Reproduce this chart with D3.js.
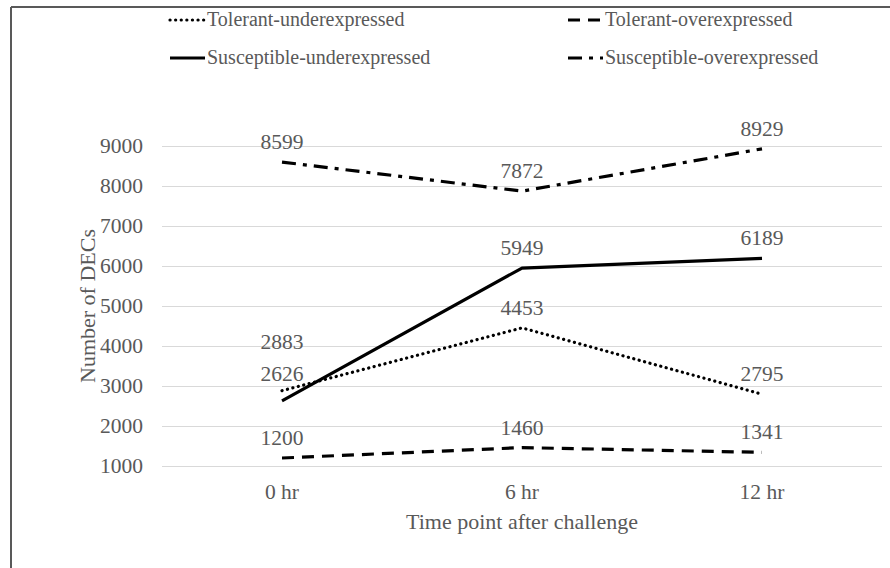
<!DOCTYPE html>
<html>
<head>
<meta charset="utf-8">
<script src="https://cdn.jsdelivr.net/npm/d3@7"></script>
<style>
  html, body { margin: 0; padding: 0; background: #fff; }
  svg { display: block; }
  svg text { font-family: "Liberation Serif", Tinos, "DejaVu Serif", "Noto Serif", "Times New Roman", serif; }
</style>
</head>
<body>
<svg id="chart" width="890" height="568"></svg>
<script>
// Time points (categories)
const timePoints = ["0 hr", "6 hr", "12 hr"];

// Number of differentially expressed contigs per group
const tolerantUnder = [2883, 4453, 2795];
const tolerantOver = [1200, 1460, 1341];
const susceptibleUnder = [2626, 5949, 6189];
const susceptibleOver = [8599, 7872, 8929];

const seriesNames = [
  "Tolerant-underexpressed",
  "Tolerant-overexpressed",
  "Susceptible-underexpressed",
  "Susceptible-overexpressed"
];

const yTicks = [1000, 2000, 3000, 4000, 5000, 6000, 7000, 8000, 9000];

const FONT = '"Liberation Serif", Tinos, "DejaVu Serif", "Noto Serif", "Times New Roman", serif';
const TEXT = "#595959";

const series = [
  { name: seriesNames[0], values: tolerantUnder, dash: "0.1 5.5", cap: "round" },
  { name: seriesNames[1], values: tolerantOver, dash: "12 8", cap: "butt" },
  { name: seriesNames[2], values: susceptibleUnder, dash: null, cap: "butt" },
  { name: seriesNames[3], values: susceptibleOver, dash: "14 7 4 7", cap: "butt" }
];

// Label vertical offsets (baseline above point); a couple are lifted to avoid overlap
const labelLift = {
  "Tolerant-underexpressed|0": 42,
  "Susceptible-underexpressed|0": 20
};
const defaultLift = 13;

const svg = d3.select("#chart");
const W = 890, H = 568;
const plot = { left: 162, right: 882, top: 146, bottom: 466 };

// Frame around the chart area
svg.append("line").attr("x1", 11).attr("x2", W).attr("y1", 7).attr("y2", 7)
  .attr("stroke", "#595959").attr("stroke-width", 2);
svg.append("line").attr("x1", 11).attr("x2", 11).attr("y1", 7).attr("y2", H)
  .attr("stroke", "#595959").attr("stroke-width", 2);

const x = d3.scaleBand().domain(timePoints).range([plot.left, plot.right]);
const y = d3.scaleLinear().domain([1000, 9000]).range([plot.bottom, plot.top]);
const cx = d => x(d) + x.bandwidth() / 2;

// Gridlines
svg.append("g")
  .selectAll("line").data(yTicks).join("line")
  .attr("x1", plot.left).attr("x2", plot.right)
  .attr("y1", d => y(d) + 0.5).attr("y2", d => y(d) + 0.5)
  .attr("stroke", "#d9d9d9").attr("stroke-width", 1);

// Y axis tick labels
const yAxis = d3.axisLeft(y).tickValues(yTicks).tickSize(0).tickPadding(19).tickFormat(d3.format("d"));
const gy = svg.append("g").attr("transform", `translate(${plot.left},0)`).call(yAxis)
  .attr("font-family", FONT);
gy.select(".domain").remove();
gy.selectAll("text").attr("font-size", 21.5).attr("fill", TEXT).style("font-family", FONT);

// X axis tick labels
const xAxis = d3.axisBottom(x).tickSize(0).tickPadding(18);
const gx = svg.append("g").attr("transform", `translate(0,${plot.bottom})`).call(xAxis)
  .attr("font-family", FONT);
gx.select(".domain").remove();
gx.selectAll("text").attr("font-size", 21.5).attr("fill", TEXT).style("font-family", FONT);

// Axis titles
svg.append("text")
  .attr("transform", `translate(95,${(plot.top + plot.bottom) / 2}) rotate(-90)`)
  .attr("text-anchor", "middle").attr("font-size", 22).attr("fill", TEXT)
  .style("font-family", FONT)
  .text("Number of DECs");
svg.append("text")
  .attr("x", (plot.left + plot.right) / 2).attr("y", 529)
  .attr("text-anchor", "middle").attr("font-size", 22).attr("fill", TEXT)
  .style("font-family", FONT)
  .text("Time point after challenge");

// Lines
const line = d3.line().x((d, i) => cx(timePoints[i])).y(d => y(d));
svg.append("g").selectAll("path").data(series).join("path")
  .attr("d", s => line(s.values))
  .attr("fill", "none").attr("stroke", "#000").attr("stroke-width", 3.2)
  .attr("stroke-linecap", s => s.cap)
  .attr("stroke-linejoin", "round")
  .attr("stroke-dasharray", s => s.dash);

// Data labels
const labels = [];
series.forEach(s => s.values.forEach((v, i) => labels.push({ s, v, i })));
svg.append("g").selectAll("text").data(labels).join("text")
  .attr("x", d => cx(timePoints[d.i]))
  .attr("y", d => y(d.v) - (labelLift[d.s.name + "|" + d.i] ?? defaultLift))
  .attr("text-anchor", "middle").attr("font-size", 21.5).attr("fill", TEXT)
  .style("font-family", FONT)
  .text(d => d.v);

// Legend
const legendPos = [
  { x: 170, y: 26 }, { x: 568, y: 26 },
  { x: 170, y: 64 }, { x: 568, y: 64 }
];
const lg = svg.append("g").selectAll("g").data(series).join("g")
  .attr("transform", (d, i) => `translate(${legendPos[i].x},${legendPos[i].y})`);
lg.append("line").attr("x1", 0).attr("x2", 35).attr("y1", -6).attr("y2", -6)
  .attr("stroke", "#000").attr("stroke-width", 3.2)
  .attr("stroke-linecap", s => s.cap)
  .attr("stroke-dasharray", s => s.dash);
lg.append("text").attr("x", 37).attr("y", 0)
  .attr("font-size", 20).attr("fill", TEXT)
  .style("font-family", FONT)
  .text(d => d.name);
</script>
</body>
</html>
